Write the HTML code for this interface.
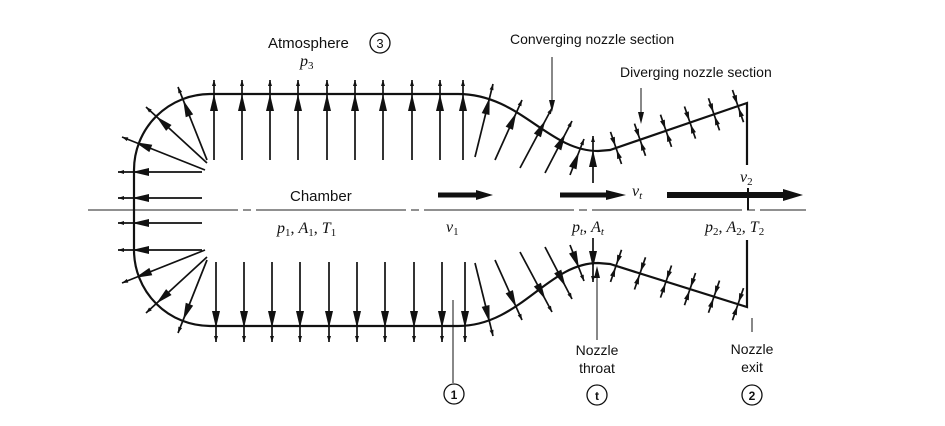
<!DOCTYPE html>
<html><head><meta charset="utf-8"><style>
html,body{margin:0;padding:0;background:#fff}
svg{display:block}
text{font-family:"Liberation Sans",sans-serif;fill:#111}
.it{font-family:"Liberation Serif",serif;font-style:italic}
</style></head><body>
<svg id="s" width="945" height="426" viewBox="0 0 945 426" xmlns="http://www.w3.org/2000/svg">
<line x1="88" y1="210" x2="806" y2="210" stroke="#222" stroke-width="1" stroke-dasharray="150 5 8 5"/>
<path d="M747 165 L747 103 L610 150 L598 151 C548 151 520 94 458 94 L210 94 A76 76 0 0 0 134 170 L134 250 A76 76 0 0 0 210 326 L458 326 C520 326 548 263 598 263 L610 264 L747 307 L747 240" fill="none" stroke="#111" stroke-width="2.2"/>
<line x1="752" y1="318" x2="752" y2="332" stroke="#111" stroke-width="1"/>
<g id="arrows"></g>
<g>
<line x1="438" y1="195" x2="478" y2="195" stroke="#111" stroke-width="5"/><polygon points="476,190 493,195 476,200" fill="#111"/>
<line x1="560" y1="195" x2="608" y2="195" stroke="#111" stroke-width="5"/><polygon points="606,190 626,195 606,200" fill="#111"/>
<line x1="667" y1="195" x2="785" y2="195" stroke="#111" stroke-width="6"/><polygon points="783,189 803,195 783,201" fill="#111"/>
<line x1="748" y1="188" x2="748" y2="210" stroke="#111" stroke-width="2"/>
</g>
<text x="268" y="48" font-size="15">Atmosphere</text>
<circle cx="380" cy="43" r="10" fill="none" stroke="#111" stroke-width="1.3"/>
<text x="380" y="48" font-size="13" text-anchor="middle">3</text>
<text x="300" y="66" font-size="16" class="it">p<tspan font-size="11" dy="3" font-style="normal">3</tspan></text>
<text x="510" y="44" font-size="14">Converging nozzle section</text>
<line x1="552" y1="57" x2="552" y2="106" stroke="#111" stroke-width="1"/><polygon points="549,100 552,112 555,100" fill="#111"/>
<text x="620" y="77" font-size="14">Diverging nozzle section</text>
<line x1="641" y1="88" x2="641" y2="118" stroke="#111" stroke-width="1"/><polygon points="638,112 641,124 644,112" fill="#111"/>
<text x="290" y="201" font-size="15">Chamber</text>
<text x="277" y="233" font-size="16" class="it">p<tspan font-size="11" dy="3" font-style="normal">1</tspan><tspan dy="-3" font-style="normal">, </tspan>A<tspan font-size="11" dy="3" font-style="normal">1</tspan><tspan dy="-3" font-style="normal">, </tspan>T<tspan font-size="11" dy="3" font-style="normal">1</tspan></text>
<text x="446" y="232" font-size="16" class="it">v<tspan font-size="11" dy="3" font-style="normal">1</tspan></text>
<text x="572" y="232" font-size="16" class="it">p<tspan font-size="11" dy="3">t</tspan><tspan dy="-3" font-style="normal">, </tspan>A<tspan font-size="11" dy="3">t</tspan></text>
<text x="632" y="196" font-size="16" class="it">v<tspan font-size="11" dy="3">t</tspan></text>
<text x="740" y="182" font-size="16" class="it">v<tspan font-size="11" dy="3" font-style="normal">2</tspan></text>
<text x="705" y="232" font-size="16" class="it">p<tspan font-size="11" dy="3" font-style="normal">2</tspan><tspan dy="-3" font-style="normal">, </tspan>A<tspan font-size="11" dy="3" font-style="normal">2</tspan><tspan dy="-3" font-style="normal">, </tspan>T<tspan font-size="11" dy="3" font-style="normal">2</tspan></text>
<line x1="453" y1="300" x2="453" y2="383" stroke="#111" stroke-width="1"/>
<circle cx="454" cy="394" r="10" fill="none" stroke="#111" stroke-width="1.3"/>
<text x="454" y="399" font-size="12" text-anchor="middle" font-weight="bold">1</text>
<line x1="597" y1="272" x2="597" y2="340" stroke="#111" stroke-width="1"/><polygon points="594,278 597,266 600,278" fill="#111"/>
<text x="597" y="355" font-size="14" text-anchor="middle">Nozzle</text>
<text x="597" y="373" font-size="14" text-anchor="middle">throat</text>
<circle cx="597" cy="395" r="10" fill="none" stroke="#111" stroke-width="1.3"/>
<text x="597" y="400" font-size="12" text-anchor="middle" font-weight="bold">t</text>
<text x="752" y="354" font-size="14" text-anchor="middle">Nozzle</text>
<text x="752" y="372" font-size="14" text-anchor="middle">exit</text>
<circle cx="752" cy="395" r="10" fill="none" stroke="#111" stroke-width="1.3"/>
<text x="752" y="400" font-size="12" text-anchor="middle" font-weight="bold">2</text>
</svg>
<script>
var NS="http://www.w3.org/2000/svg";
var g=document.getElementById('arrows');
function tri(x,y,ux,uy,L,W){var p=document.createElementNS(NS,'polygon');
var bx=x-ux*L,by=y-uy*L,nx=-uy*W/2,ny=ux*W/2;
p.setAttribute('points',x+','+y+' '+(bx+nx)+','+(by+ny)+' '+(bx-nx)+','+(by-ny));p.setAttribute('fill','#111');


g.appendChild(p);}
function line(a,b,c,d){var l=document.createElementNS(NS,'line');l.setAttribute('x1',a);l.setAttribute('y1',b);l.setAttribute('x2',c);l.setAttribute('y2',d);l.setAttribute('stroke','#111');l.setAttribute('stroke-width','1.7');


g.appendChild(l);}
function big(x1,y1,x2,y2){var dx=x2-x1,dy=y2-y1,L=Math.hypot(dx,dy),ux=dx/L,uy=dy/L;line(x1,y1,x2,y2);
var f=L-14;tri(x1+ux*f,y1+uy*f,ux,uy,17,8);tri(x2,y2,ux,uy,6,4);}
function dbl(cx,cy,nx,ny){var h=17;line(cx-nx*h,cy-ny*h,cx+nx*h,cy+ny*h);tri(cx+nx*2,cy+ny*2,-nx,-ny,9,5);tri(cx-nx*2,cy-ny*2,nx,ny,9,5);}
var chamberX=[214,242,270,298,327,355,383,412,440];
chamberX.forEach(function(x){big(x,160,x,80);big(x+2,262,x+2,342);});
big(463,160,463,80);big(465,262,465,342);
[[475,157,493,84],[495,160,522,100],[520,168,552,108],[545,173,572,121],[570,175,584,139]].forEach(function(a){big(a[0],a[1],a[2],a[3]);big(a[0],420-a[1],a[2],420-a[3]);});
big(593,183,593,136);big(593,238,593,282);
[[207,160,178,87],[207,163,146,107],[205,170,122,137]].forEach(function(a){big(a[0],a[1],a[2],a[3]);big(a[0],420-a[1],a[2],420-a[3]);});
[172,198,223,250].forEach(function(y){big(202,y,118,y);});
var dn=Math.hypot(47,137),nx=47/dn,ny=137/dn;
[616,640,666,690,714,738].forEach(function(x){var yt=150-(x-610)*47/137;dbl(x,yt,nx,ny);var yb=264+(x-610)*43/137;dbl(x,yb,nx,-ny);});
</script>
</body></html>
